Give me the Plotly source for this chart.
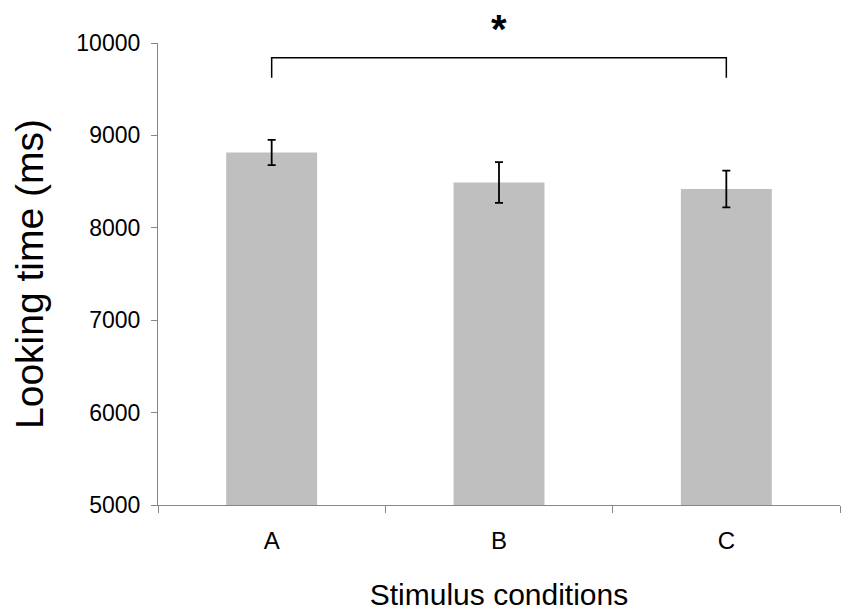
import plotly.graph_objects as go

conditions = ["A", "B", "C"]
looking_time = [8815, 8490, 8420]
sem = [136, 220, 198]

y_ticks = [5000, 6000, 7000, 8000, 9000, 10000]

sig_pair = ["A", "C"]
bracket_top = 9840
bracket_tip = 9625
star_level = 10150

y_min, y_max = y_ticks[0], y_ticks[-1]

fig = go.Figure()

fig.add_trace(go.Bar(
    x=conditions,
    y=looking_time,
    marker=dict(color="#bfbfbf", line=dict(width=0)),
    width=0.4,
    error_y=dict(type="data", array=sem, color="black", thickness=1.8, width=4),
))

# significance bracket between A and C
fig.add_trace(go.Scatter(
    x=[sig_pair[0], sig_pair[0], sig_pair[1], sig_pair[1]],
    y=[bracket_tip, bracket_top, bracket_top, bracket_tip],
    mode="lines",
    line=dict(color="black", width=1.5),
    hoverinfo="skip",
))

# star sits above the plot area, so place it in axis-domain units
fig.add_annotation(
    x="B", xref="x",
    y=(star_level - y_min) / (y_max - y_min), yref="y domain",
    text="<b>*</b>", showarrow=False,
    font=dict(size=40, color="black"), yanchor="middle",
)

fig.update_layout(
    width=850, height=616,
    margin=dict(l=150, r=18, t=35, b=119),
    paper_bgcolor="white", plot_bgcolor="white",
    showlegend=False,
    font=dict(family="Liberation Sans, Arial, sans-serif", color="black"),
)

fig.update_xaxes(
    showline=True, linecolor="#868686", linewidth=1.2,
    ticks="outside", tickson="boundaries", ticklen=7, tickcolor="#868686",
    tickfont=dict(size=24), ticklabelstandoff=14,
    title=dict(text="Stimulus conditions", font=dict(size=30), standoff=31),
    showgrid=False,
)
fig.update_yaxes(
    range=[y_min, y_max], tickvals=y_ticks, tickformat="d",
    showline=True, linecolor="#868686", linewidth=1.2,
    ticks="outside", ticklen=6, tickcolor="#868686",
    tickfont=dict(size=23), ticklabelstandoff=6,
    title=dict(text="Looking time (ms)", font=dict(size=39), standoff=24),
    showgrid=False, zeroline=False,
)

fig.write_html("out.html")
